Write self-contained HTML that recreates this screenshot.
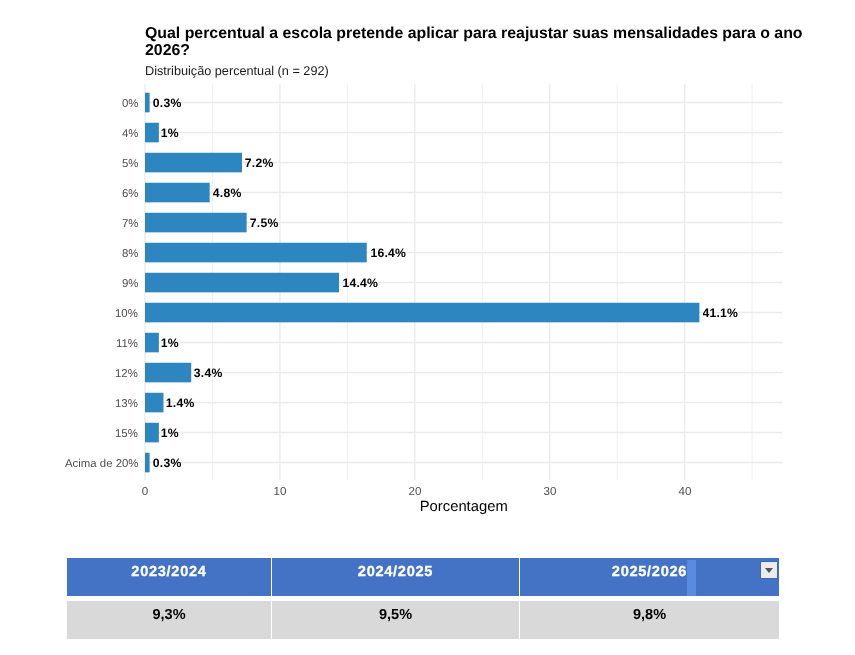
<!DOCTYPE html>
<html><head><meta charset="utf-8">
<style>
html,body{margin:0;padding:0;background:#fff;}
body{width:855px;height:655px;position:relative;overflow:hidden;font-family:"Liberation Sans",sans-serif;text-rendering:geometricPrecision;}
.t,.st,.vl,.yl,.xl,.xt,.ht,.rt{will-change:transform;}
.ch{position:absolute;left:0;top:0;}
.t{position:absolute;left:145px;top:25.0px;font-size:15.87px;font-weight:bold;line-height:17.3px;color:#000;white-space:nowrap;}
.st{position:absolute;left:145px;top:63.5px;font-size:12.7px;line-height:14px;color:#1a1a1a;white-space:nowrap;}
.vl{position:absolute;font-size:12.2px;font-weight:bold;line-height:16px;color:#000;white-space:nowrap;letter-spacing:0.2px;transform:translateX(10%);}
.yl{position:absolute;right:717px;font-size:11.4px;line-height:14px;color:#4d4d4d;white-space:nowrap;text-align:right;}
.xl{position:absolute;top:485px;width:40px;text-align:center;font-size:11.6px;line-height:14px;color:#4d4d4d;}
.xt{position:absolute;left:145px;width:637.5px;top:499.3px;text-align:center;font-size:14.8px;line-height:16px;color:#000;}
.hd{position:absolute;top:558px;height:38px;background:#4472c4;}
.rw{position:absolute;top:601px;height:38px;background:#d9d9d9;}
.ht{position:absolute;top:561.6px;height:20px;line-height:20px;text-align:center;color:#fff;font-weight:bold;font-size:14.6px;letter-spacing:0.7px;-webkit-text-stroke:0.3px #fff;}
.rt{position:absolute;top:605.2px;height:20px;line-height:20px;text-align:center;color:#000;font-weight:bold;font-size:14.5px;}
</style></head><body>
<svg class="ch" width="855" height="655" viewBox="0 0 855 655"><line x1="145.00" y1="84.2" x2="145.00" y2="480.3" stroke="#ebebeb" stroke-width="1.4"/><line x1="212.45" y1="84.2" x2="212.45" y2="480.3" stroke="#ebebeb" stroke-width="0.8"/><line x1="279.90" y1="84.2" x2="279.90" y2="480.3" stroke="#ebebeb" stroke-width="1.4"/><line x1="347.35" y1="84.2" x2="347.35" y2="480.3" stroke="#ebebeb" stroke-width="0.8"/><line x1="414.80" y1="84.2" x2="414.80" y2="480.3" stroke="#ebebeb" stroke-width="1.4"/><line x1="482.25" y1="84.2" x2="482.25" y2="480.3" stroke="#ebebeb" stroke-width="0.8"/><line x1="549.70" y1="84.2" x2="549.70" y2="480.3" stroke="#ebebeb" stroke-width="1.4"/><line x1="617.15" y1="84.2" x2="617.15" y2="480.3" stroke="#ebebeb" stroke-width="0.8"/><line x1="684.60" y1="84.2" x2="684.60" y2="480.3" stroke="#ebebeb" stroke-width="1.4"/><line x1="752.05" y1="84.2" x2="752.05" y2="480.3" stroke="#ebebeb" stroke-width="0.8"/><line x1="145" y1="102.55" x2="782.5" y2="102.55" stroke="#ebebeb" stroke-width="1.4"/><line x1="145" y1="132.55" x2="782.5" y2="132.55" stroke="#ebebeb" stroke-width="1.4"/><line x1="145" y1="162.55" x2="782.5" y2="162.55" stroke="#ebebeb" stroke-width="1.4"/><line x1="145" y1="192.55" x2="782.5" y2="192.55" stroke="#ebebeb" stroke-width="1.4"/><line x1="145" y1="222.55" x2="782.5" y2="222.55" stroke="#ebebeb" stroke-width="1.4"/><line x1="145" y1="252.55" x2="782.5" y2="252.55" stroke="#ebebeb" stroke-width="1.4"/><line x1="145" y1="282.55" x2="782.5" y2="282.55" stroke="#ebebeb" stroke-width="1.4"/><line x1="145" y1="312.55" x2="782.5" y2="312.55" stroke="#ebebeb" stroke-width="1.4"/><line x1="145" y1="342.55" x2="782.5" y2="342.55" stroke="#ebebeb" stroke-width="1.4"/><line x1="145" y1="372.55" x2="782.5" y2="372.55" stroke="#ebebeb" stroke-width="1.4"/><line x1="145" y1="402.55" x2="782.5" y2="402.55" stroke="#ebebeb" stroke-width="1.4"/><line x1="145" y1="432.55" x2="782.5" y2="432.55" stroke="#ebebeb" stroke-width="1.4"/><line x1="145" y1="462.55" x2="782.5" y2="462.55" stroke="#ebebeb" stroke-width="1.4"/><rect x="145" y="92.75" width="4.62" height="19.6" fill="#2e86c1"/><rect x="145" y="122.75" width="13.86" height="19.6" fill="#2e86c1"/><rect x="145" y="152.75" width="97.02" height="19.6" fill="#2e86c1"/><rect x="145" y="182.75" width="64.68" height="19.6" fill="#2e86c1"/><rect x="145" y="212.75" width="101.64" height="19.6" fill="#2e86c1"/><rect x="145" y="242.75" width="221.75" height="19.6" fill="#2e86c1"/><rect x="145" y="272.75" width="194.03" height="19.6" fill="#2e86c1"/><rect x="145" y="302.75" width="554.38" height="19.6" fill="#2e86c1"/><rect x="145" y="332.75" width="13.86" height="19.6" fill="#2e86c1"/><rect x="145" y="362.75" width="46.20" height="19.6" fill="#2e86c1"/><rect x="145" y="392.75" width="18.48" height="19.6" fill="#2e86c1"/><rect x="145" y="422.75" width="13.86" height="19.6" fill="#2e86c1"/><rect x="145" y="452.75" width="4.62" height="19.6" fill="#2e86c1"/></svg>
<div class="t">Qual percentual a escola pretende aplicar para reajustar suas mensalidades para o ano<br>2026?</div>
<div class="st">Distribuição percentual (n = 292)</div>
<div class="vl" style="top:94.65px;left:149.62px">0.3%</div>
<div class="yl" style="top:96.95px">0%</div>
<div class="vl" style="top:124.65px;left:158.86px">1%</div>
<div class="yl" style="top:126.95px">4%</div>
<div class="vl" style="top:154.65px;left:242.02px">7.2%</div>
<div class="yl" style="top:156.95px">5%</div>
<div class="vl" style="top:184.65px;left:209.68px">4.8%</div>
<div class="yl" style="top:186.95px">6%</div>
<div class="vl" style="top:214.65px;left:246.64px">7.5%</div>
<div class="yl" style="top:216.95px">7%</div>
<div class="vl" style="top:244.65px;left:366.75px">16.4%</div>
<div class="yl" style="top:246.95px">8%</div>
<div class="vl" style="top:274.65px;left:339.03px">14.4%</div>
<div class="yl" style="top:276.95px">9%</div>
<div class="vl" style="top:304.65px;left:699.38px">41.1%</div>
<div class="yl" style="top:306.95px">10%</div>
<div class="vl" style="top:334.65px;left:158.86px">1%</div>
<div class="yl" style="top:336.95px">11%</div>
<div class="vl" style="top:364.65px;left:191.20px">3.4%</div>
<div class="yl" style="top:366.95px">12%</div>
<div class="vl" style="top:394.65px;left:163.48px">1.4%</div>
<div class="yl" style="top:396.95px">13%</div>
<div class="vl" style="top:424.65px;left:158.86px">1%</div>
<div class="yl" style="top:426.95px">15%</div>
<div class="vl" style="top:454.65px;left:149.62px">0.3%</div>
<div class="yl" style="top:456.95px">Acima de 20%</div>
<div class="xl" style="left:125.00px">0</div>
<div class="xl" style="left:259.90px">10</div>
<div class="xl" style="left:394.80px">20</div>
<div class="xl" style="left:529.70px">30</div>
<div class="xl" style="left:664.60px">40</div>
<div class="xt">Porcentagem</div>
<div class="hd" style="left:67px;width:204px"></div>
<div class="hd" style="left:272px;width:247px"></div>
<div class="hd" style="left:520px;width:259px"></div>
<div style="position:absolute;left:687px;top:560px;width:9px;height:36px;background:#5b8be0"></div>
<div style="position:absolute;left:761px;top:562px;width:16px;height:16px;background:#ececec;box-shadow:0 0 0 1px #3c68b8;"></div>
<div style="position:absolute;left:764.7px;top:568px;width:0;height:0;border-left:4.5px solid transparent;border-right:4.5px solid transparent;border-top:5.2px solid #555;"></div>
<div class="rw" style="left:67px;width:204px"></div>
<div class="rw" style="left:272px;width:247px"></div>
<div class="rw" style="left:520px;width:259px"></div>
<div class="ht" style="left:67px;width:204px">2023/2024</div>
<div class="ht" style="left:272px;width:247px">2024/2025</div>
<div class="ht" style="left:520px;width:259px">2025/2026</div>
<div class="rt" style="left:67px;width:204px">9,3%</div>
<div class="rt" style="left:272px;width:247px">9,5%</div>
<div class="rt" style="left:520px;width:259px">9,8%</div>
</body></html>
